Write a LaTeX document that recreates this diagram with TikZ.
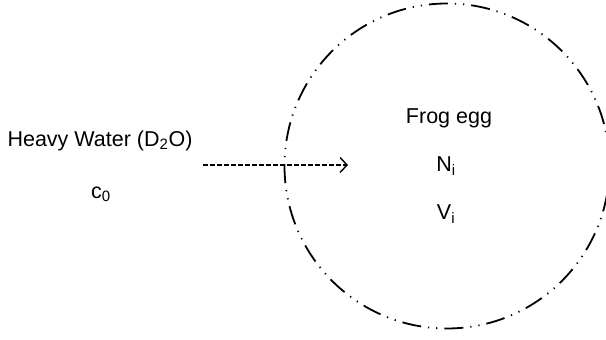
\documentclass[tikz,border=0pt]{standalone}
\usepackage{fontspec}
\setmainfont{Liberation Sans}
\usetikzlibrary{arrows.meta}
\begin{document}
\begin{tikzpicture}[x=1pt,y=1pt,
  lbl/.style={font=\fontsize{21.5}{25}\selectfont, inner sep=0pt},
  egg/.style={draw, line width=1.8pt, dash pattern=on 19pt off 7pt on 1.2pt off 7pt on 1.2pt off 7pt},
  flow/.style={draw, line width=1.4pt, dash pattern=on 4.5pt off 2.5pt, -{Straight Barb[length=7pt,width=15pt,line width=1.4pt]}}]
\useasboundingbox (0,0) rectangle (606,340);
\clip (0,0) rectangle (606,340);
\fill[white] (0,0) rectangle (606,340);
\node[egg, circle, minimum size=325pt, inner sep=0pt] (egg) at (447,174) {};
\node[lbl] (hw) at (100,199) {Heavy Water (D\textsubscript{2}O)};
\node[lbl] (c0) at (101,146) {c\textsubscript{0}};
\node[lbl] (frog) at (449,222) {Frog egg};
\node[lbl] (ni) at (446,174) {N\textsubscript{i}};
\node[lbl] (vi) at (446,126) {V\textsubscript{i}};
\coordinate (a) at (203,175);
\coordinate (b) at (348,175);
\draw[flow] (a) -- (b);
\end{tikzpicture}
\end{document}
